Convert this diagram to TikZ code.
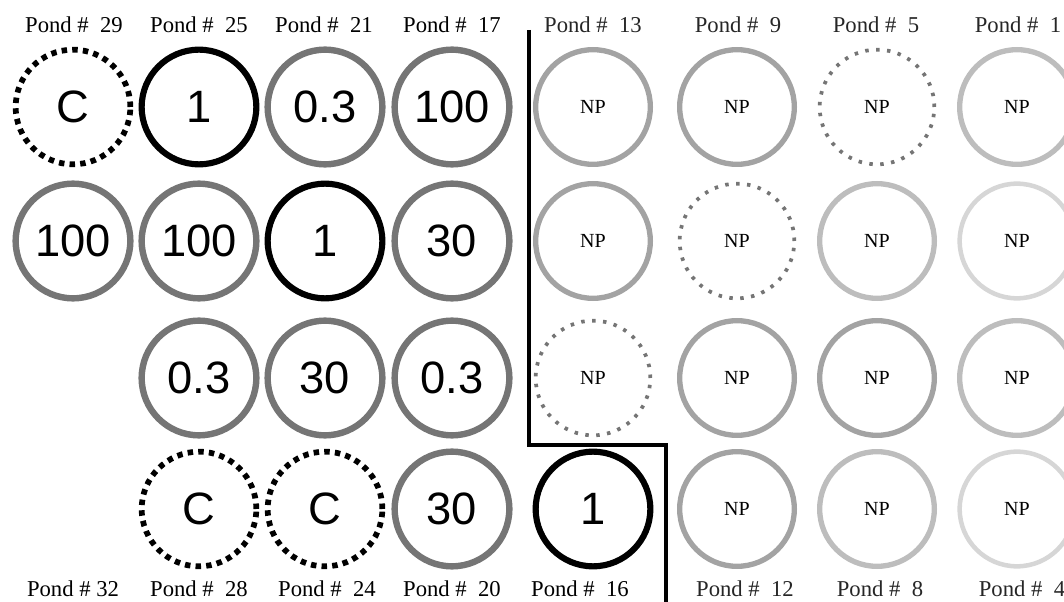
\documentclass[tikz,border=0pt]{standalone}
\usepackage{fontspec}
\setmainfont{Liberation Serif}
\newfontfamily\dosefont{Liberation Sans}
\definecolor{ringdose}{gray}{0.46}
\definecolor{ringnp}{gray}{0.64}
\definecolor{ringpale}{gray}{0.74}
\definecolor{ringfaint}{gray}{0.84}
\tikzset{
    pondlabel/.style={font=\fontsize{17}{20}\selectfont, inner sep=0pt},
    ring/.style={circle, minimum size=86pt, inner sep=0pt},
    doseval/.style={ring, font=\dosefont\fontsize{34}{38}\selectfont},
    ctrlring/.style={doseval, draw=black, line width=4.3pt, dash pattern=on 4.1pt off 3.9pt},
    lowring/.style={doseval, draw=black, line width=4.6pt},
    grayring/.style={doseval, draw=ringdose, line width=4.8pt},
    npring/.style={ring, draw=ringnp, line width=4pt, font=\fontsize{15}{17}\selectfont},
    npdotring/.style={npring, draw=ringdose, line width=2.8pt, dash pattern=on 2.6pt off 5.6pt},
    nppale/.style={npring, draw=ringpale},
    npfaint/.style={npring, draw=ringfaint, line width=3.4pt},
}

\begin{document}
\begin{tikzpicture}[x=0.75pt, y=-0.75pt]

        \useasboundingbox (0,0) rectangle (1064,602);
        \clip (0,0) rectangle (1064,602);

        % ---------------- pond labels ----------------
        \foreach \lx/\pn in {74/29, 199/25, 324/21, 452/17}
            \node[pondlabel] (top\pn) at (\lx,25) {Pond \#\ \ \pn};
        \foreach \lx/\pn in {593/13, 738/9, 876/5, 1018/1}
            \node[pondlabel, text=black!85] (top\pn) at (\lx,25) {Pond \#\ \ \pn};
        \node[pondlabel] (bot32) at (73,589) {Pond \# 32};
        \foreach \lx/\pn in {199/28, 327/24, 452/20, 580/16}
            \node[pondlabel] (bot\pn) at (\lx,589) {Pond \#\ \ \pn};
        \foreach \lx/\pn in {745/12, 880/8, 1022/4}
            \node[pondlabel, text=black!85] (bot\pn) at (\lx,589) {Pond \#\ \ \pn};

        % ---------------- treated ponds ----------------
        \node[ctrlring] (p29) at (73,107) {C};
        \node[lowring]  (p25) at (199,107) {1};
        \node[grayring] (p21) at (325,107) {0.3};
        \node[grayring] (p17) at (452,107) {100};

        \node[grayring] (p30) at (73,241) {100};
        \node[grayring] (p26) at (199,241) {100};
        \node[lowring]  (p22) at (325,241) {1};
        \node[grayring] (p18) at (452,241) {30};

        \node[grayring] (p27) at (199,378) {0.3};
        \node[grayring] (p23) at (325,378) {30};
        \node[grayring] (p19) at (452,378) {0.3};

        \node[ctrlring] (p28) at (199,509) {C};
        \node[ctrlring] (p24) at (325,509) {C};
        \node[grayring] (p20) at (452,509) {30};
        \node[lowring]  (p16) at (593,509) {1};

        % ---------------- untreated ponds ----------------
        \foreach \cx/\cy/\pn/\sty in {593/107/13/npring, 737/107/9/npring, 877/107/5/npdotring, 1017/107/1/nppale,
                                      593/241/14/npring, 737/241/10/npdotring, 877/241/6/nppale, 1017/241/2/npfaint,
                                      593/378/15/npdotring, 737/378/11/npring, 877/378/7/npring, 1017/378/3/nppale,
                                      737/509/12/npring, 877/509/8/nppale, 1017/509/4/npfaint}
            \node[\sty] (p\pn) at (\cx,\cy) {NP};

        % ---------------- dividing line ----------------
        \coordinate (divtop) at (529,30);
        \coordinate (divstep) at (529,445);
        \coordinate (divcorner) at (666,445);
        \coordinate (divbot) at (666,602);
        \draw[line width=3pt] (divtop) -- (divstep) -- (divcorner) -- (divbot);

    \end{tikzpicture}
\end{document}
